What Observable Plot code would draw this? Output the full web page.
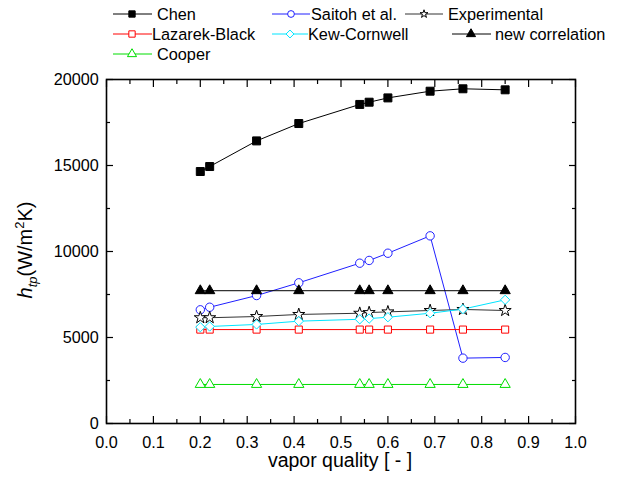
<!DOCTYPE html>
<html><head><meta charset="utf-8">
<script src="https://cdn.jsdelivr.net/npm/d3@7"></script>
<script src="https://cdn.jsdelivr.net/npm/@observablehq/plot@0.6"></script>
<style>
html,body{margin:0;padding:0;background:#fff;}
svg{display:block;}
body{font-family:"Liberation Sans",Arial,sans-serif;}
</style></head><body>
<div id="legend"></div><div id="chart"></div>
<script>
// ---- data ----
const quality = [0.20, 0.22, 0.32, 0.41, 0.54, 0.56, 0.60, 0.69, 0.76, 0.85];
const chen = [14650, 14940, 16430, 17440, 18550, 18680, 18930, 19320, 19460, 19400];
const saitoh = [6610, 6760, 7440, 8180, 9320, 9480, 9900, 10910, 3800, 3840];
const experimental = [6150, 6150, 6220, 6340, 6410, 6450, 6490, 6570, 6630, 6570];
const lazarekBlack = [5460, 5460, 5460, 5460, 5460, 5460, 5460, 5460, 5460, 5460];
const kewCornwell = [5600, 5640, 5760, 5950, 6060, 6100, 6180, 6410, 6650, 7190];
const newCorrelation = [7720, 7720, 7720, 7720, 7720, 7720, 7720, 7720, 7720, 7720];
const cooper = [2270, 2270, 2270, 2270, 2270, 2270, 2270, 2270, 2270, 2270];
const seriesNames = ["Chen", "Saitoh et al.", "Experimental", "Lazarek-Black", "Kew-Cornwell", "new correlation", "Cooper"];
const xMajorTicks = [0, 0.1, 0.2, 0.3, 0.4, 0.5, 0.6, 0.7, 0.8, 0.9, 1.0];
const xMinorTicks = [0.05, 0.15, 0.25, 0.35, 0.45, 0.55, 0.65, 0.75, 0.85, 0.95];
const yMajorTicks = [0, 5000, 10000, 15000, 20000];
const yMinorTicks = [2500, 7500, 12500, 17500];

// ---- styles ----
const seriesValues = [chen, saitoh, experimental, lazarekBlack, kewCornwell, newCorrelation, cooper];
const styles = [
  {color: "#000000", line: "#000000", symbol: "square", fill: "#000000", r: 4.5, lsize: 40},
  {color: "#2020ff", line: "#2020ff", symbol: "circle", fill: "white", r: 4.2, lsize: 36},
  {color: "#000000", line: "#333333", symbol: "star", fill: "white", r: 3.8, lsize: 20},
  {color: "#ff0000", line: "#ff0000", symbol: "square", fill: "white", r: 4.0, lsize: 40},
  {color: "#00e5ff", line: "#00e5ff", symbol: "diamond2", fill: "white", r: 4.2, lsize: 40},
  {color: "#000000", line: "#000000", symbol: "triangle", fill: "#000000", r: 3.8, lsize: 36},
  {color: "#00dd00", line: "#00dd00", symbol: "triangle", fill: "white", r: 3.8, lsize: 36}
];

const series = seriesNames.map((name, i) => ({
  name, ...styles[i],
  rows: quality.map((q, j) => ({x: q, y: seriesValues[i][j]}))
}));

// ---- legend ----
const legendPos = [
  {row: 14, l0: 113, l1: 152, m: 132, t: 157},
  {row: 14, l0: 272, l1: 310, m: 291, t: 311},
  {row: 14, l0: 405, l1: 443, m: 424, t: 448},
  {row: 34, l0: 113, l1: 152, m: 132, t: 152},
  {row: 34, l0: 272, l1: 308, m: 290, t: 308},
  {row: 34, l0: 452, l1: 491, m: 471, t: 495},
  {row: 54, l0: 113, l1: 152, m: 132, t: 157}
];
const symMap = {square: d3.symbolSquare, circle: d3.symbolCircle, star: d3.symbolStar, diamond2: d3.symbolDiamond2, triangle: d3.symbolTriangle};
const lsvg = d3.select("#legend").append("svg").attr("width", 621).attr("height", 68)
  .style("font-family", '"Liberation Sans", Arial, sans-serif');
series.forEach((s, i) => {
  const p = legendPos[i];
  const g = lsvg.append("g");
  g.append("line").attr("x1", p.l0).attr("x2", p.l1).attr("y1", p.row).attr("y2", p.row)
    .attr("stroke", s.line).attr("stroke-width", 1);
  g.append("path").attr("d", d3.symbol(symMap[s.symbol], s.lsize)())
    .attr("transform", `translate(${p.m},${p.row})`)
    .attr("fill", s.fill).attr("stroke", s.color).attr("stroke-width", 1);
  g.append("text").attr("x", p.t).attr("y", p.row).attr("dy", "0.36em")
    .attr("font-size", 16.3).attr("fill", "#000").text(s.name);
});

// ---- chart ----
const marks = [];
series.forEach(s => {
  marks.push(Plot.line(s.rows, {x: "x", y: "y", stroke: s.line, strokeWidth: 1}));
});
series.forEach(s => {
  marks.push(Plot.dot(s.rows, {x: "x", y: "y", symbol: s.symbol, r: s.r, fill: s.fill, stroke: s.color, strokeWidth: 1}));
});
const blank = () => "";
marks.push(
  Plot.axisX({anchor: "bottom", ticks: xMajorTicks, tickSize: -7, tickPadding: 19.5, tickFormat: d3.format(".1f"), label: null, strokeWidth: 1.2}),
  Plot.axisX({anchor: "bottom", ticks: xMinorTicks, tickSize: -4, tickFormat: blank, label: null, strokeWidth: 1.2}),
  Plot.axisX({anchor: "top", ticks: xMajorTicks, tickSize: -7, tickFormat: blank, label: null, strokeWidth: 1.2}),
  Plot.axisX({anchor: "top", ticks: xMinorTicks, tickSize: -4, tickFormat: blank, label: null, strokeWidth: 1.2}),
  Plot.axisY({anchor: "left", ticks: yMajorTicks, tickSize: -7, tickPadding: 14.7, tickFormat: d => String(d), label: null, strokeWidth: 1.2}),
  Plot.axisY({anchor: "left", ticks: yMinorTicks, tickSize: -4, tickFormat: blank, label: null, strokeWidth: 1.2}),
  Plot.axisY({anchor: "right", ticks: yMajorTicks, tickSize: -7, tickFormat: blank, label: null, strokeWidth: 1.2}),
  Plot.axisY({anchor: "right", ticks: yMinorTicks, tickSize: -4, tickFormat: blank, label: null, strokeWidth: 1.2}),
  Plot.frame({stroke: "#000", strokeWidth: 1.6})
);

const chart = Plot.plot({
  width: 621,
  height: 411,
  marginTop: 11,
  marginBottom: 56,
  marginLeft: 106,
  marginRight: 46,
  x: {domain: [0, 1], label: null},
  y: {domain: [0, 20000], label: null},
  style: {fontFamily: '"Liberation Sans", Arial, sans-serif', fontSize: "16.2px", color: "#000", background: "#fff"},
  marks
});
document.getElementById("chart").appendChild(chart);

const svg = d3.select(chart);
svg.append("text").attr("transform", "translate(340,399)").attr("text-anchor", "middle")
  .attr("font-size", 19.5).attr("fill", "#000").text("vapor quality [ - ]");
const yl = svg.append("text").attr("transform", "translate(32,182) rotate(-90)").attr("text-anchor", "middle")
  .attr("font-size", 20).attr("fill", "#000");
yl.append("tspan").attr("font-style", "italic").text("h");
yl.append("tspan").attr("font-style", "italic").attr("font-size", 13).attr("dy", 5).text("tp");
yl.append("tspan").attr("dy", -5).text("(W/m");
yl.append("tspan").attr("font-size", 13).attr("dy", -8).text("2");
yl.append("tspan").attr("dy", 8).text("K)");
</script>
</body></html>
